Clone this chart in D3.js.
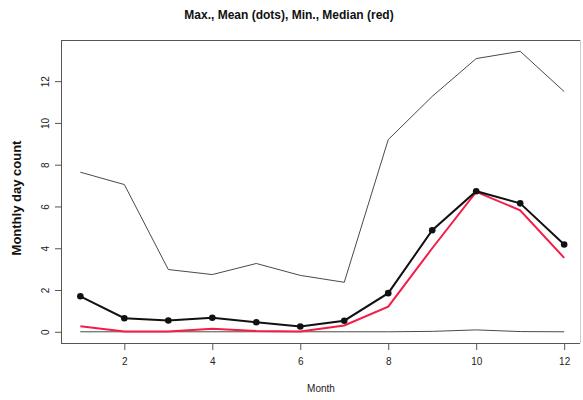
<!DOCTYPE html>
<meta charset="utf-8">
<style>
  body { margin: 0; background: #fff; }
  * { font-family: 'Liberation Sans', Arial, sans-serif; }
</style>
<svg width="583" height="400"></svg>
<script src="https://d3js.org/d3.v7.min.js"></script>
<script>
var months = [1, 2, 3, 4, 5, 6, 7, 8, 9, 10, 11, 12];
var maxVals = [7.64, 7.05, 2.98, 2.74, 3.27, 2.70, 2.37, 9.20, 11.27, 13.08, 13.43, 11.50];
var meanVals = [1.70, 0.65, 0.54, 0.67, 0.46, 0.25, 0.53, 1.85, 4.86, 6.73, 6.15, 4.18];
var minVals = [0, 0, 0, 0, 0, 0, 0, 0, 0.02, 0.09, 0.01, 0];
var medianVals = [0.27, 0.01, 0.01, 0.14, 0.04, 0.01, 0.30, 1.20, 4.00, 6.70, 5.82, 3.54];
var xTicks = [2, 4, 6, 8, 10, 12];
var yTicks = [0, 2, 4, 6, 8, 10, 12];

var svg = d3.select("svg"),
    box = {left: 61, right: 580, top: 40, bottom: 343};

// R style: data range padded by 4% on each side
var x = d3.scaleLinear().domain([0.56, 12.36]).range([box.left, box.right]);
var y = d3.scaleLinear().domain([-0.537, 13.97]).range([box.bottom, box.top]);

// top and right of the box
svg.append("path")
    .attr("d", "M" + box.left + "," + (box.top + 0.5) + "H" + (box.right + 0.5))
    .attr("fill", "none")
    .attr("stroke", "#555");
svg.append("path")
    .attr("d", "M" + (box.right + 0.5) + "," + box.top + "V" + box.bottom)
    .attr("fill", "none")
    .attr("stroke", "#ccc");

var xAxis = svg.append("g")
    .attr("transform", "translate(0," + box.bottom + ")")
    .call(d3.axisBottom(x).tickValues(xTicks).tickSize(7).tickPadding(8).tickSizeOuter(0));
var yAxis = svg.append("g")
    .attr("transform", "translate(" + box.left + ",0)")
    .call(d3.axisLeft(y).tickValues(yTicks).tickSize(6).tickSizeOuter(0));

[xAxis, yAxis].forEach(function(a) {
  a.select(".domain").attr("stroke", "#555");
  a.selectAll(".tick line").attr("stroke", "#555");
  a.selectAll("text").attr("fill", "#222").style("font-size", "10px")
    .style("font-family", "'Liberation Sans', Arial, sans-serif");
});
// extend the axis lines to the corner
xAxis.select(".domain").attr("d", "M" + box.left + ",0.5H" + box.right);
yAxis.select(".domain").attr("d", "M0.5," + box.top + "V" + box.bottom);

yAxis.selectAll(".tick text")
    .attr("x", null)
    .attr("text-anchor", "middle")
    .attr("transform", "translate(-16,0) rotate(-90)")
    .attr("dy", "0.35em");

var line = function(vals) {
  return d3.line()
    .x(function(d, i) { return x(months[i]); })
    .y(function(d) { return y(d); })(vals);
};

svg.append("path").attr("d", line(maxVals))
    .attr("fill", "none").attr("stroke", "#4a4a4a").attr("stroke-width", 1);
svg.append("path").attr("d", line(minVals))
    .attr("fill", "none").attr("stroke", "#4a4a4a").attr("stroke-width", 1);
svg.append("path").attr("d", line(medianVals))
    .attr("fill", "none").attr("stroke", "#f41c48").attr("stroke-width", 2);
svg.append("path").attr("d", line(meanVals))
    .attr("fill", "none").attr("stroke", "#111").attr("stroke-width", 2);
svg.selectAll("circle.mean").data(meanVals).enter().append("circle")
    .attr("class", "mean")
    .attr("cx", function(d, i) { return x(months[i]); })
    .attr("cy", function(d) { return y(d); })
    .attr("r", 3.3)
    .attr("fill", "#111");

svg.append("text")
    .attr("x", 289).attr("y", 19)
    .attr("text-anchor", "middle")
    .style("font-size", "12px").style("font-weight", "bold")
    .attr("fill", "#111")
    .text("Max., Mean (dots), Min., Median (red)");

svg.append("text")
    .attr("transform", "translate(21,198) rotate(-90)")
    .attr("text-anchor", "middle")
    .style("font-size", "13px").style("font-weight", "bold")
    .attr("fill", "#111")
    .text("Monthly day count");

svg.append("text")
    .attr("x", 321).attr("y", 392)
    .attr("text-anchor", "middle")
    .style("font-size", "10px")
    .attr("fill", "#222")
    .text("Month");
</script>
